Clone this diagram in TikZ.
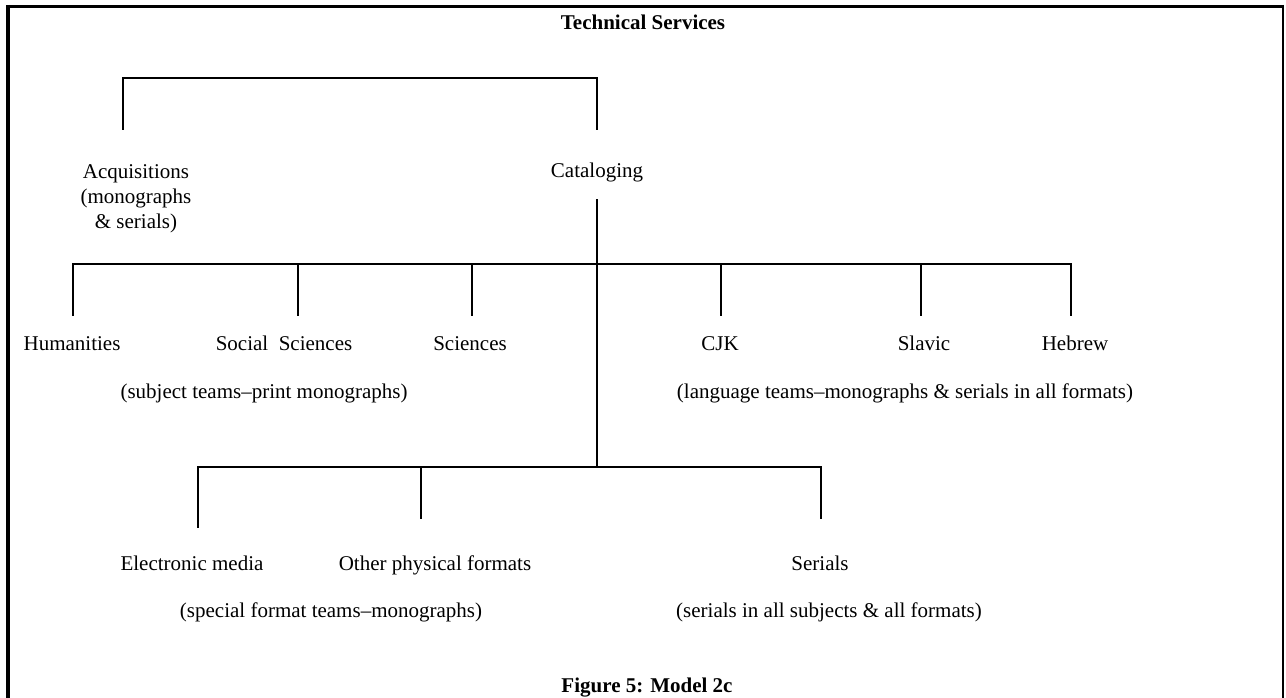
\documentclass[tikz,border=0pt]{standalone}
\usepackage{fontspec}
\setmainfont{Liberation Serif}
\begin{document}
\begin{tikzpicture}[x=1pt,y=-1pt,
  lbl/.style={anchor=base,inner sep=0pt,font=\fontsize{21}{25.5}\selectfont},
  ttl/.style={lbl,font=\fontsize{21}{25.5}\selectfont\bfseries},
  conn/.style={line width=1.8pt,line cap=rect}]
\useasboundingbox (0,0) rectangle (1286,698);
% frame
\draw[line width=4pt] (8,5) -- (8,698);
\draw[line width=3pt] (6,6.5) -- (1284,6.5);
\draw[line width=2pt] (1283,5) -- (1283,698);
% title
\node[ttl] (title) at (643,30) {Technical Services};
% level 1
\node[lbl,align=center] (acq) at (136,229) {Acquisitions\\(monographs\\\& serials)};
\node[lbl] (cat) at (597,178) {Cataloging};
\coordinate (acqT) at (123,129);
\coordinate (catT) at (597,129);
\coordinate (topL) at (123,78);
\coordinate (topR) at (597,78);
\draw[conn] (acqT) -- (topL) -- (topR) -- (catT);
% cataloging trunk
\coordinate (catB) at (597,200);
\coordinate (midJ) at (597,264);
\coordinate (lowJ) at (597,467);
\draw[conn] (catB) -- (lowJ);
% middle row
\node[lbl] (hum) at (72,350) {Humanities};
\node[lbl] (soc) at (284,350) {Social\ \ Sciences};
\node[lbl] (sci) at (470,350) {Sciences};
\node[lbl] (cjk) at (720,350) {CJK};
\node[lbl] (sla) at (924,350) {Slavic};
\node[lbl] (heb) at (1075,350) {Hebrew};
\node[lbl] (subj) at (264,398) {(subject teams–print monographs)};
\node[lbl] (lang) at (905,398) {(language teams–monographs \& serials in all formats)};
\coordinate (humT) at (73,315);   \coordinate (humJ) at (73,264);
\coordinate (socT) at (298,315);  \coordinate (socJ) at (298,264);
\coordinate (sciT) at (472,315);  \coordinate (sciJ) at (472,264);
\coordinate (cjkT) at (721,315);  \coordinate (cjkJ) at (721,264);
\coordinate (slaT) at (921,315);  \coordinate (slaJ) at (921,264);
\coordinate (hebT) at (1071,315); \coordinate (hebJ) at (1071,264);
\draw[conn] (humT) -- (humJ) -- (hebJ) -- (hebT);
\foreach \n in {soc,sci,cjk,sla}{\draw[conn] (\n T) -- (\n J);}
% lower row
\node[lbl] (ele) at (192,570) {Electronic media};
\node[lbl] (oth) at (435,570) {Other physical formats};
\node[lbl] (ser) at (820,570) {Serials};
\node[lbl] (spec) at (331,617) {(special format teams–monographs)};
\node[lbl] (sall) at (829,617) {(serials in all subjects \& all formats)};
\coordinate (eleT) at (198,527); \coordinate (eleJ) at (198,467);
\coordinate (othT) at (421,518); \coordinate (othJ) at (421,467);
\coordinate (serT) at (821,518); \coordinate (serJ) at (821,467);
\draw[conn] (eleT) -- (eleJ) -- (serJ) -- (serT);
\draw[conn] (othT) -- (othJ);
% caption
\node[ttl] (cap) at (647,692) {Figure 5: Model 2c};
\end{tikzpicture}
\end{document}
